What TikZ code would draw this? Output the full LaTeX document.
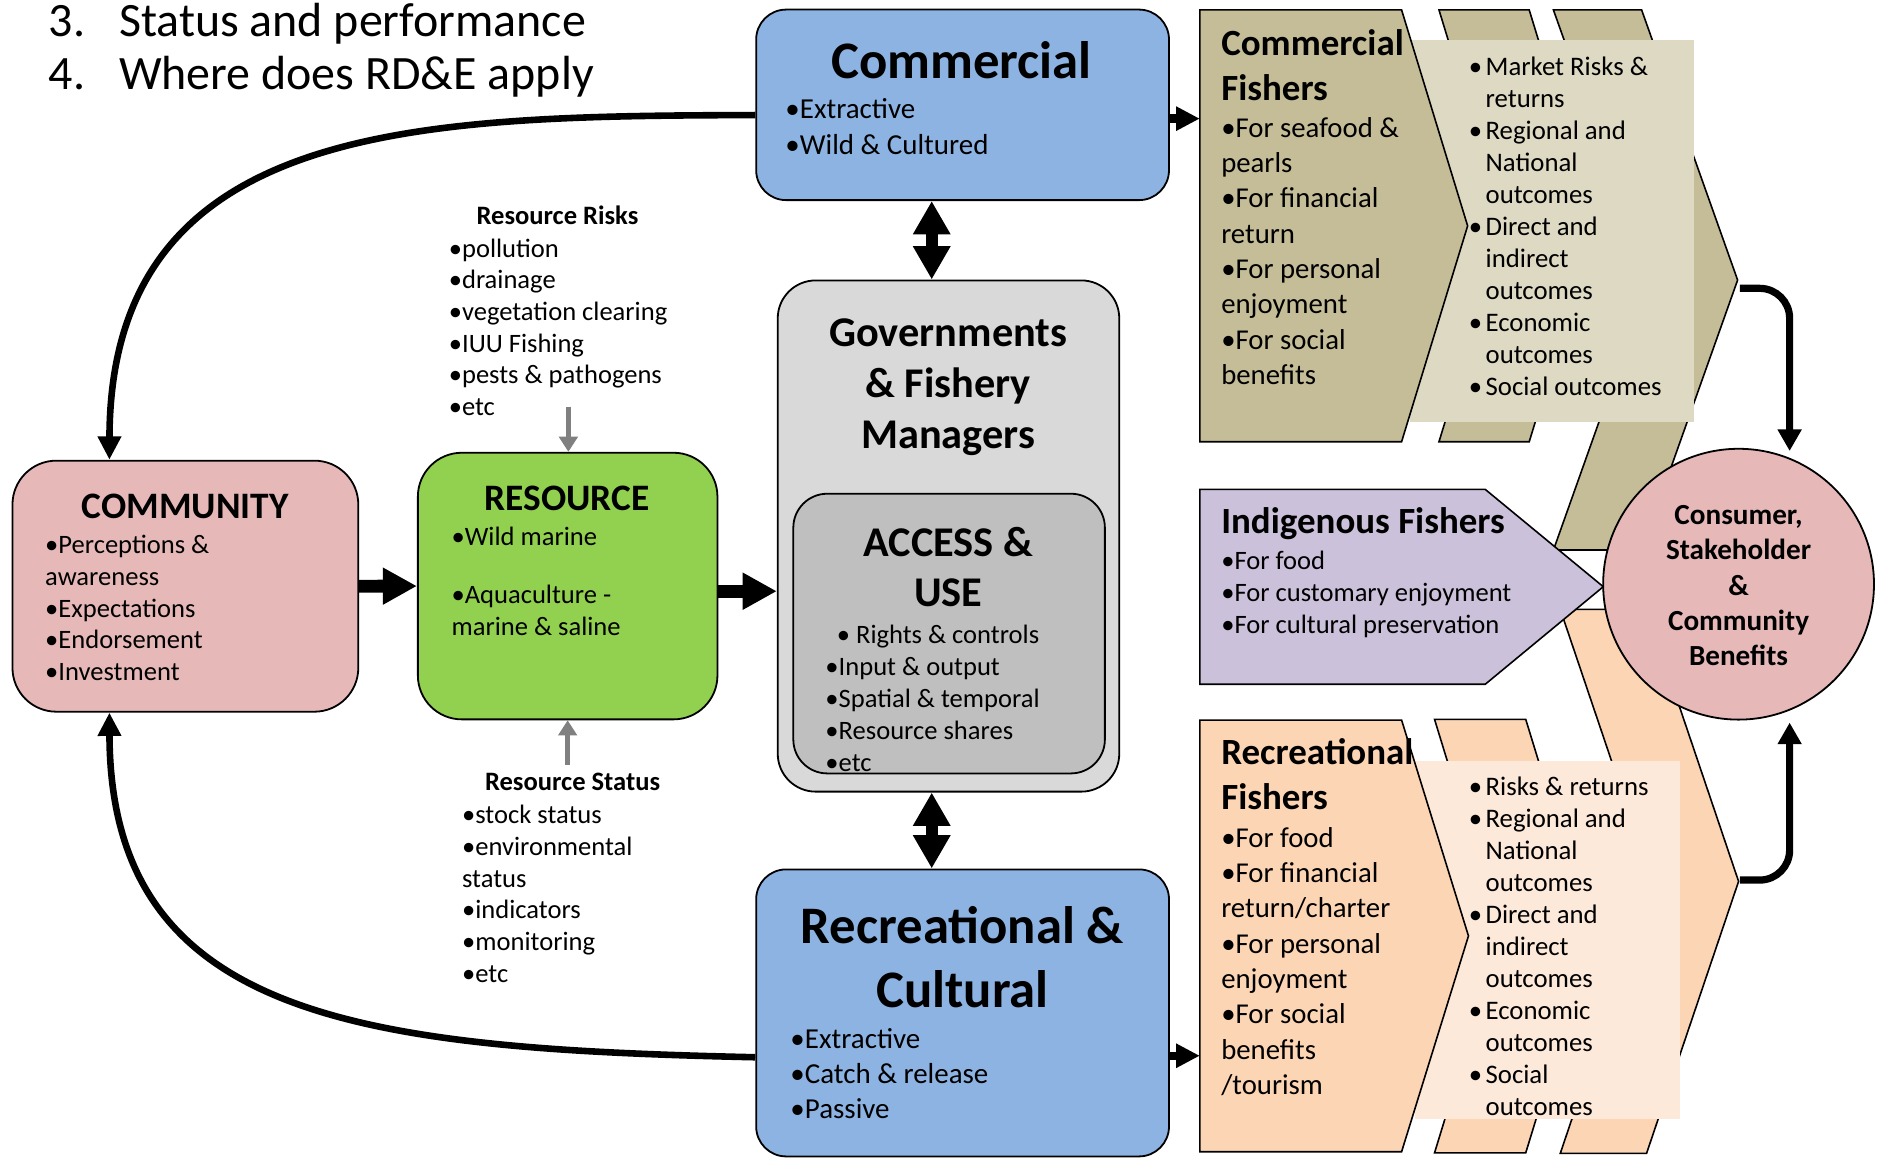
\documentclass[tikz,border=0pt]{standalone}
\usepackage{fontspec}
\setmainfont{Carlito}
\usetikzlibrary{arrows.meta,fit}

\definecolor{bluebox}{HTML}{8DB3E2}
\definecolor{govgray}{HTML}{D9D9D9}
\definecolor{accgray}{HTML}{BFBFBF}
\definecolor{pinkbox}{HTML}{E6B9B8}
\definecolor{greenbox}{HTML}{92D050}
\definecolor{tandark}{HTML}{C4BD97}
\definecolor{tanlight}{HTML}{DDD9C3}
\definecolor{lilac}{HTML}{CCC1DA}
\definecolor{peachdark}{HTML}{FCD5B5}
\definecolor{peachlight}{HTML}{FDE9D9}
\definecolor{arrgray}{HTML}{808080}

\newcommand{\fs}[2]{\fontsize{#1}{#2}\selectfont}
\newcommand{\hb}{\makebox[8.4pt][l]{•}}
\newcommand{\hi}{\hspace*{8.4pt}}

\tikzset{
    box/.style={draw, line width=0.9pt, inner sep=0pt},
    chev/.style={draw, line width=0.8pt},
    txt/.style={inner sep=0pt, anchor=north west, align=left},
    ctxt/.style={inner sep=0pt, anchor=north, align=center},
    ttl/.style={inner sep=0pt, anchor=base},
    bigcurve/.style={line width=3.3pt, -{Triangle[length=11.7pt,width=11.2pt]}},
    sidecurve/.style={line width=3.6pt, rounded corners=15pt, -{Triangle[length=10.8pt,width=11.4pt]}},
    smallarrow/.style={line width=4.2pt, -{Triangle[length=11.8pt,width=11.4pt]}},
    blockarrow/.style={line width=6.4pt, -{Triangle[length=17.1pt,width=17.4pt]}},
    dblarrow/.style={line width=5.8pt, {Triangle[length=16.7pt,width=17.7pt]}-{Triangle[length=16.7pt,width=17.7pt]}},
    grayarrow/.style={arrgray, line width=2.7pt, -{Triangle[length=7.6pt,width=9.2pt]}}
}

\begin{document}
\begin{tikzpicture}[x=0.6pt,y=-0.6pt]
    \useasboundingbox (0,0) rectangle (1568,966);
    \clip (0,0) rectangle (1568,966);

    % heading
    \node[txt, font=\fs{24}{26.4}] (nums) at (40.5,-0.8) {\strut 3.\\4.};
    \node[txt, font=\fs{24}{26.4}] (head) at (99,-0.8) {\strut Status and performance\\Where does RD\&E apply};

    % boxes
    \node[box, fill=bluebox, rounded corners=15pt, fit={(631,8) (975.5,167)}] (comm) {};
    \node[box, fill=govgray, rounded corners=19pt, fit={(649,234) (934,660.6)}] (gov) {};
    \node[box, fill=accgray, rounded corners=17pt, fit={(662,412) (922,645.4)}] (access) {};
    \node[box, fill=bluebox, rounded corners=15pt, fit={(631,725.5) (975.5,965)}] (rec) {};
    \node[box, fill=pinkbox, rounded corners=22pt, fit={(10.4,384.4) (299,593.9)}] (community) {};
    \node[box, fill=greenbox, rounded corners=22pt, fit={(348.7,377.8) (598.7,600.3)}] (resource) {};

    % commercial fishers
    \filldraw[chev, fill=tandark] (1200.8,8.3) -- (1276.1,8.3) -- (1331.2,188.5) -- (1276.1,368.6) -- (1200.8,368.6) -- (1255.9,188.5) -- cycle;
    \filldraw[chev, fill=tandark] (1296.3,8.3) -- (1369.9,8.3) -- (1450,233.7) -- (1369.9,459) -- (1296.3,459) -- (1376.4,233.7) -- cycle;
    \fill[tanlight] (1177,33.4) rectangle (1414,351.9);
    \filldraw[chev, fill=tandark] (1001.2,8.3) -- (1169.6,8.3) -- (1224.7,188.5) -- (1169.6,368.6) -- (1001.2,368.6) -- cycle;

    % recreational fishers
    \filldraw[chev, fill=peachdark] (1197.1,600.3) -- (1273.2,600.3) -- (1328.6,781) -- (1273.2,962) -- (1197.1,962) -- (1252.5,781) -- cycle;
    \filldraw[chev, fill=peachdark] (1302,508.5) -- (1374,508.5) -- (1450.8,735.5) -- (1374,962.5) -- (1302,962.5) -- (1378.8,735.5) -- cycle;
    \fill[peachlight] (1180.6,635.1) rectangle (1401.9,934.1);
    \filldraw[chev, fill=peachdark] (1001.2,600.9) -- (1169.6,600.9) -- (1225.4,781) -- (1169.6,961.1) -- (1001.2,961.1) -- cycle;

    % indigenous fishers
    \filldraw[chev, fill=lilac] (1001.2,408.4) -- (1239.4,408.4) -- (1337.9,489.6) -- (1239.4,571) -- (1001.2,571) -- cycle;

    \node[box, circle, fill=pinkbox, minimum size=135.6pt] (consumer) at (1450.8,487.5) {};

    \coordinate (cfish) at (1001.2,99);
    \coordinate (rfish) at (1001.2,881);
    \coordinate (ctip) at (1451.9,240.6);
    \coordinate (rtip) at (1451.9,734.4);
    \coordinate (riskarr) at (474.3,339.4);
    \coordinate (statarr) at (473.7,638.4);

    % texts
    \node[ttl, font=\fs{26.4}{32}\bfseries] (commttl) at (802.5,65.4) {Commercial};
    \node[txt, font=\fs{14.5}{18}] (commtxt) at (655.1,77.8) {\strut•Extractive\\•Wild \& Cultured};
    \node[ctxt, font=\fs{21.2}{25.6}\bfseries] (govttl) at (791.3,258.8) {\strut Governments\\\& Fishery\\Managers};
    \node[ctxt, font=\fs{21.2}{25.5}\bfseries] (accttl) at (791.3,433.9) {\strut ACCESS \&\\USE};
    \node[txt, font=\fs{13.3}{16}] (acctxt) at (688.5,518) {\strut\hspace{5.7pt}• Rights \& controls\\•Input \& output\\•Spatial \& temporal\\•Resource shares\\•etc};
    \node[ctxt, font=\fs{26.4}{32.3}\bfseries] (recttl) at (803.2,749) {\strut Recreational \&\\Cultural};
    \node[txt, font=\fs{14.5}{17.5}] (rectxt) at (659.3,854.4) {\strut•Extractive\\•Catch \& release\\•Passive};
    \node[ttl, font=\fs{18.7}{22}\bfseries] (comttl) at (154.5,432.6) {COMMUNITY};
    \node[txt, font=\fs{13.3}{15.85}] (comtxt) at (37.4,443.3) {\strut•Perceptions \&\\awareness\\•Expectations\\•Endorsement\\•Investment};
    \node[ttl, font=\fs{18.7}{22}\bfseries] (resttl) at (473.3,425.6) {RESOURCE};
    \node[txt, font=\fs{13.3}{15.9}] (restxt) at (376.5,436.2) {\strut•Wild marine\\[13.3pt]•Aquaculture -\\marine \& saline};
    \node[ttl, font=\fs{13.3}{16}\bfseries] (riskttl) at (465.2,187.2) {Resource Risks};
    \node[txt, font=\fs{13.3}{15.85}] (risktxt) at (374.2,195.7) {\strut•pollution\\•drainage\\•vegetation clearing\\•IUU Fishing\\•pests \& pathogens\\•etc};
    \node[ttl, font=\fs{13.3}{16}\bfseries] (statttl) at (477.8,659.8) {Resource Status};
    \node[txt, font=\fs{13.3}{15.85}] (stattxt) at (385.3,668.6) {\strut•stock status\\•environmental\\status\\•indicators\\•monitoring\\•etc};

    \node[txt, font=\fs{18.5}{22.5}\bfseries] (cfishttl) at (1018.8,19.7) {\strut Commercial\\Fishers};
    \node[txt, font=\fs{14.4}{17.7}] (cfishtxt) at (1018.8,93.4) {\strut•For seafood \&\\pearls\\•For financial\\return\\•For personal\\enjoyment\\•For social\\benefits};
    \node[txt, font=\fs{13.4}{16}] (cbentxt) at (1225.4,44) {\strut\hb Market Risks \&\\\hi returns\\\hb Regional and\\\hi National\\\hi outcomes\\\hb Direct and\\\hi indirect\\\hi outcomes\\\hb Economic\\\hi outcomes\\\hb Social outcomes};
    \node[ttl, anchor=base west, font=\fs{18.5}{22.5}\bfseries] (indttl) at (1018.8,445) {Indigenous Fishers};
    \node[txt, font=\fs{13.3}{16}] (indtxt) at (1018.8,456.4) {\strut•For food\\•For customary enjoyment\\•For cultural preservation};
    \node[txt, font=\fs{18.5}{22.5}\bfseries] (rfishttl) at (1018.8,611.4) {\strut Recreational\\Fishers};
    \node[txt, font=\fs{14.4}{17.7}] (rfishtxt) at (1018.8,686) {\strut•For food\\•For financial\\return/charter\\•For personal\\enjoyment\\•For social\\benefits\\/tourism};
    \node[txt, font=\fs{13.4}{16}] (rbentxt) at (1225.4,644.9) {\strut\hb Risks \& returns\\\hb Regional and\\\hi National\\\hi outcomes\\\hb Direct and\\\hi indirect\\\hi outcomes\\\hb Economic\\\hi outcomes\\\hb Social\\\hi outcomes};
    \node[ctxt, font=\fs{14.6}{17.7}\bfseries] (constxt) at (1450.8,416.7) {\strut Consumer,\\Stakeholder\\\&\\Community\\Benefits};

    % arrows
    \draw[bigcurve] (comm.west) ++(0,8.5) .. controls (350,97) and (92,100) .. (community.121);
    \draw[bigcurve] (rec.west) ++(0,37) .. controls (300,875) and (92,850) .. (community.239);
    \draw[smallarrow] (comm.east |- cfish) -- (cfish);
    \draw[smallarrow] (rec.east |- rfish) -- (rfish);
    \draw[sidecurve, shorten >=3.4pt] (ctip) -| (consumer.68);
    \draw[sidecurve, shorten >=6pt] (rtip) -| (consumer.292);
    \draw[blockarrow] (community.east) -- (resource.west);
    \path (resource.east) ++(0,4.3) coordinate (r2g);
    \draw[blockarrow] (r2g) -- (r2g -| gov.west);
    \path (gov.north) ++(-14,0) coordinate (g1);
    \draw[dblarrow] (g1 |- comm.south) -- (g1);
    \path (gov.south) ++(-14,0) coordinate (g2);
    \draw[dblarrow] (g2) -- (g2 |- rec.north);
    \draw[grayarrow] (riskarr) -- (riskarr |- resource.north);
    \draw[grayarrow] (statarr) -- (statarr |- resource.south);
\end{tikzpicture}
\end{document}
